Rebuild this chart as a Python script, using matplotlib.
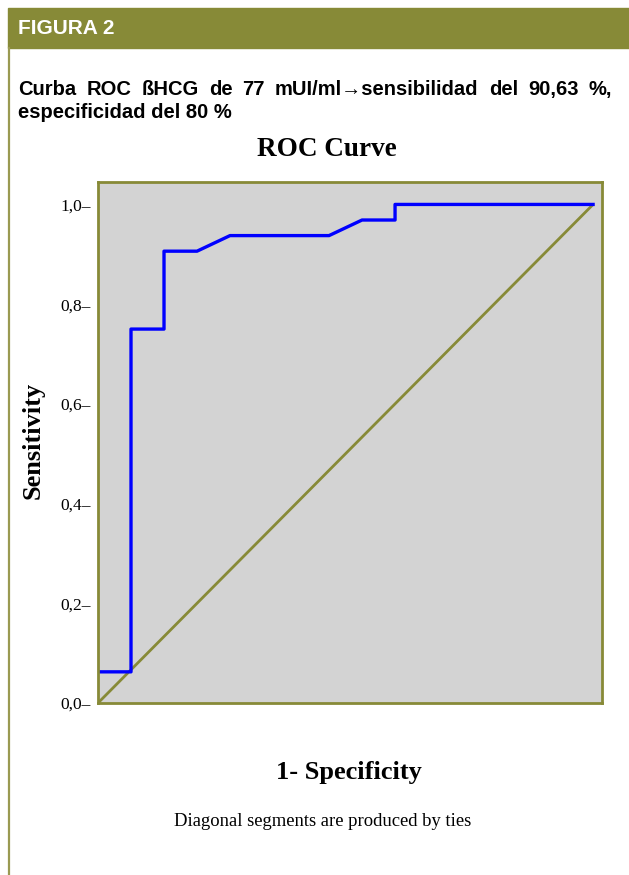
import matplotlib
matplotlib.use("Agg")
import matplotlib.pyplot as plt
from matplotlib.patches import Rectangle
from matplotlib.lines import Line2D

# ROC points (1 - specificity, sensitivity)
fpr = [0.0, 1/15, 1/15, 2/15, 2/15, 3/15, 4/15, 7/15, 8/15, 9/15, 9/15, 1.0]
tpr = [2/32, 2/32, 24/32, 24/32, 29/32, 29/32, 30/32, 30/32, 31/32, 31/32, 1.0, 1.0]
ref_x = [0.0, 1.0]
ref_y = [0.0, 1.0]
yticks = [0.0, 0.2, 0.4, 0.6, 0.8, 1.0]
ytick_labels = ["0,0–", "0,2–", "0,4–", "0,6–", "0,8–", "1,0–"]

olive = "#878a37"
serif = ["Liberation Serif", "DejaVu Serif"]
sans = ["Liberation Sans", "DejaVu Sans"]

W, H = 629, 875
fig = plt.figure(figsize=(W / 100, H / 100), dpi=100)


def fx(px):
    return px / W


def fy(py):
    return 1 - py / H


# header band and left rule
fig.patches.append(Rectangle((fx(8), fy(48)), 1 - fx(8), fy(8) - fy(48),
                             transform=fig.transFigure, color=olive, zorder=0))
fig.lines.append(Line2D([fx(8.5), fx(8.5)], [fy(48), 0], transform=fig.transFigure,
                        color="#9a9a52", lw=1.6))
fig.text(fx(18), fy(29), "FIGURA 2", color="white", fontsize=15, fontweight="bold",
         family=sans, va="center", ha="left")

# justified first subtitle line
renderer = fig.canvas.get_renderer()
words = "Curba ROC ßHCG de 77 mUI/ml→sensibilidad del 90,63 %,".split(" ")
x0, x1 = 18, 612
txts = [fig.text(0, fy(95), w, fontsize=14.5, fontweight="bold", family=sans,
                 va="baseline", ha="left") for w in words]
widths = [t.get_window_extent(renderer).width for t in txts]
gap = (x1 - x0 - sum(widths)) / (len(words) - 1)
x = x0
for t, w in zip(txts, widths):
    t.set_x(fx(x))
    x += w + gap
fig.text(fx(18), fy(118), "especificidad del 80 %", fontsize=14.5, fontweight="bold",
         family=sans, va="baseline", ha="left")

# chart
ax = fig.add_axes([fx(98), fy(703), fx(602) - fx(98), fy(182) - fy(703)])
ax.set_facecolor("#d3d3d3")
ax.plot(ref_x, ref_y, color=olive, lw=2, solid_capstyle="butt")
ax.plot(fpr, tpr, color="#0000ff", lw=2.4)
ax.set_xlim(0, 1.018)
ax.set_ylim(0, 1.045)
ax.set_xticks([])
ax.set_yticks(yticks)
ax.set_yticklabels(ytick_labels, family=serif, fontsize=12.5)
ax.tick_params(axis="y", length=0, pad=5)
for s in ax.spines.values():
    s.set_color(olive)
    s.set_linewidth(2)

fig.text(fx(327), fy(150), "ROC Curve", fontsize=19.5, fontweight="bold", family=serif,
         ha="center", va="center")
fig.text(fx(33), fy(440), "Sensitivity", fontsize=19, fontweight="bold", family=serif,
         ha="center", va="center", rotation=90)
fig.text(fx(349), fy(772), "1- Specificity", fontsize=19, fontweight="bold", family=serif,
         ha="center", va="center")
fig.text(fx(323), fy(821), "Diagonal segments are produced by ties", fontsize=13.4,
         family=serif, ha="center", va="center")

fig.savefig("out.png", dpi=100)
